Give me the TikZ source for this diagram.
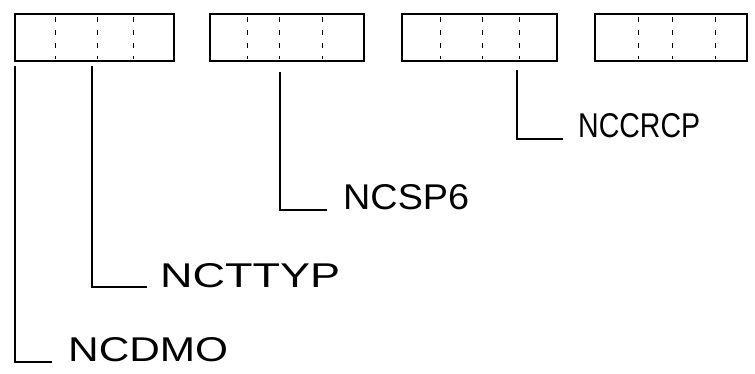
\documentclass[tikz,border=0pt]{standalone}
\usepackage{fontspec}
\setmainfont{Liberation Sans}
\usepackage{graphicx}
\begin{document}
\begin{tikzpicture}[x=1pt,y=-1pt,
  regbox/.style={draw=black,line width=1.4pt,minimum height=47pt,inner sep=0pt},
  divider/.style={draw=black,line width=0.9pt,dash pattern=on 5pt off 8pt},
  leader/.style={draw=black,line width=1.3pt},
  lab/.style={anchor=base west,inner sep=0pt,font=\fontsize{30}{30}\selectfont}
]
\useasboundingbox (0,0) rectangle (755,374);
% register boxes
\node[regbox,minimum width=159pt] (b1) at (94.5,37.5) {};
\node[regbox,minimum width=154pt] (b2) at (287,37.5) {};
\node[regbox,minimum width=155pt] (b3) at (479.5,37.5) {};
\node[regbox,minimum width=152pt] (b4) at (671,37.5) {};
% internal dashed dividers
\foreach \x in {55,97,133, 247,279,322, 440,482,519, 638,672,715}
  \draw[divider] (\x,17) -- (\x,59);
% labels
\node[lab] (l1) at (68,361) {\resizebox{160pt}{24pt}{NCDMO}};
\node[lab] (l2) at (160,287) {\resizebox{180pt}{24pt}{NCTTYP}};
\node[lab] (l3) at (343,210) {\resizebox{126pt}{25pt}{NCSP6}};
\node[lab] (l4) at (578,138) {\resizebox{122pt}{24pt}{NCCRCP}};
% leader start points
\coordinate (s1) at (15,66);
\coordinate (s2) at (92,66);
\coordinate (s3) at (280,72);
\coordinate (s4) at (517,70);
\draw[leader] (s1) |- ([xshift=-16pt,yshift=-1pt]l1.base west);
\draw[leader] (s2) |- ([xshift=-13pt,yshift=0pt]l2.base west);
\draw[leader] (s3) |- ([xshift=-16pt,yshift=0pt]l3.base west);
\draw[leader] (s4) |- ([xshift=-15pt,yshift=-1pt]l4.base west);
\end{tikzpicture}
\end{document}
